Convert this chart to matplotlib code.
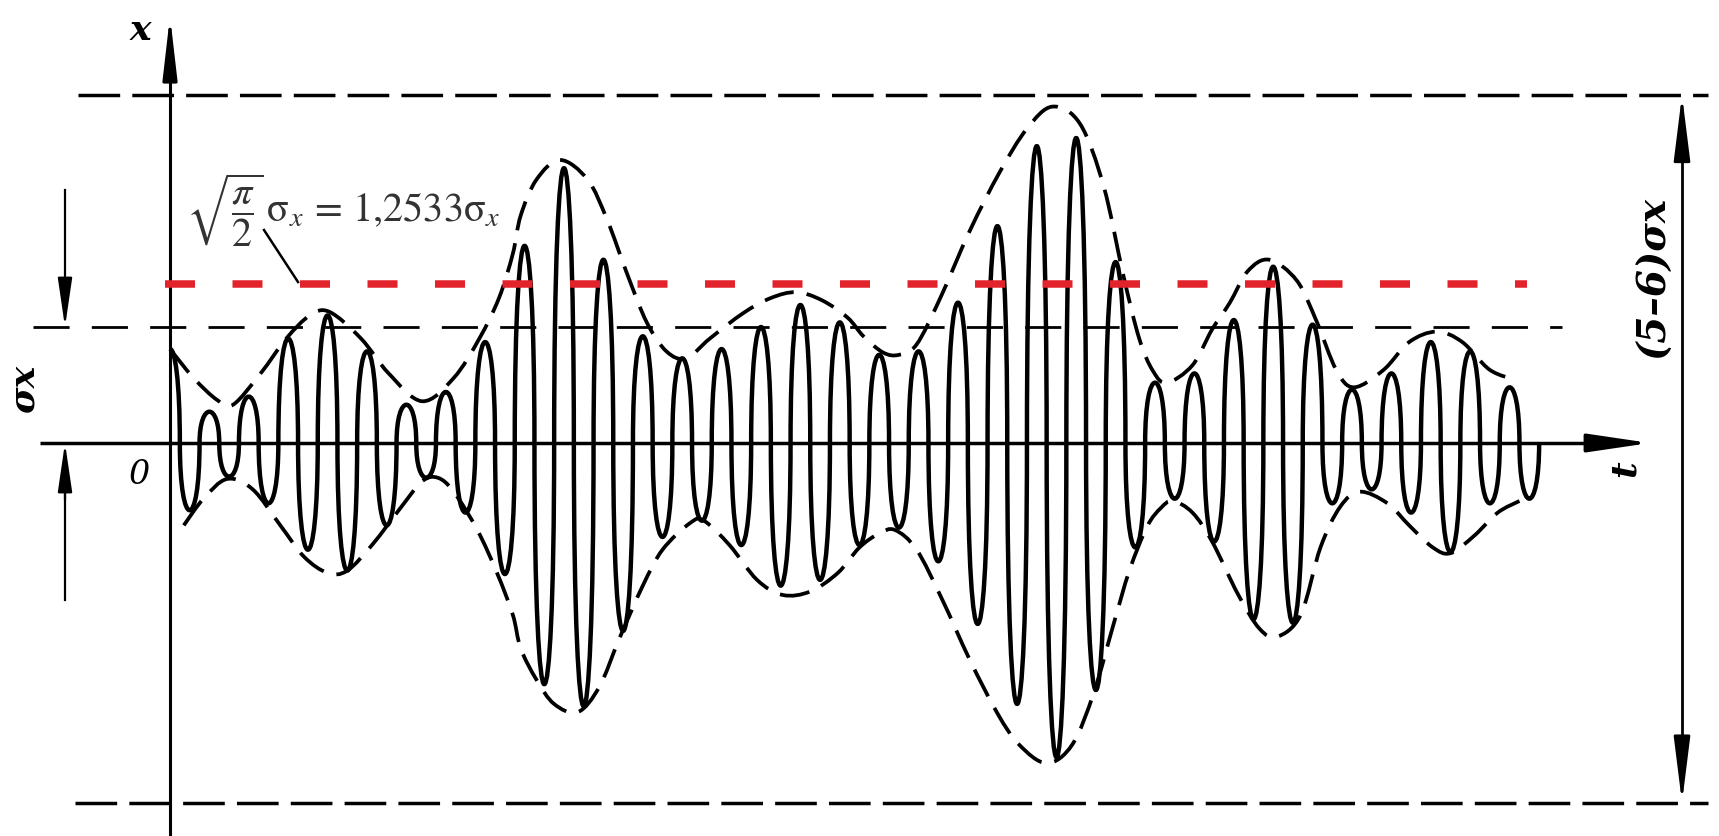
import numpy as np
import matplotlib
matplotlib.use("Agg")
import matplotlib.pyplot as plt
from matplotlib.path import Path
from matplotlib.patches import PathPatch

# peak value of every half-cycle of the carrier (in sigma units), half-cycle k is centred at t = k
peaks = [0.81, -0.58, 0.27, -0.29, 0.40, -0.52, 0.90, -0.92, 1.10, -1.10,
         0.79, -0.71, 0.33, -0.30, 0.44, -0.60, 0.87, -1.13, 1.70, -2.08,
         2.37, -2.27, 1.58, -1.62, 0.92, -0.81, 0.73, -0.67, 0.81, -0.88,
         1.00, -1.23, 1.19, -1.18, 1.04, -0.88, 0.76, -0.73, 0.79, -1.02,
         1.21, -1.56, 1.87, -2.25, 2.56, -2.71, 2.63, -2.13, 1.56, -0.90,
         0.52, -0.48, 0.60, -0.85, 1.06, -1.52, 1.52, -1.55, 1.02, -0.52,
         0.46, -0.40, 0.60, -0.60, 0.87, -0.94, 0.79, -0.52, 0.48, -0.48]

# envelope knots
upper_env_t = [0.0, 1.2, 2.4, 3.2, 4.6, 5.9, 7.1, 8.1, 9.7, 11.1, 12.8, 14.4, 15.7, 16.7,
               17.4, 17.8, 18.6, 19.8, 21.2, 22.2, 23.2, 24.2, 25.2, 26.2, 27.4, 29.1,
               30.5, 31.8, 33.1, 34.4, 35.2, 36.2, 37.0, 37.9, 39.1, 40.6, 42.1, 43.5,
               44.8, 46.2, 47.4, 48.4, 49.2, 49.9, 50.6, 51.9, 52.9, 53.8, 54.7, 55.8,
               57.2, 58.2, 59.2, 60.1, 61.6, 62.9, 64.3, 65.6, 67.0, 68.4]
upper_env_x = [0.81, 0.56, 0.37, 0.33, 0.60, 0.90, 1.10, 1.13, 0.90, 0.60, 0.36, 0.56, 0.90, 1.25,
               1.63, 1.96, 2.27, 2.44, 2.27, 1.92, 1.46, 1.04, 0.79, 0.73, 0.90, 1.12,
               1.25, 1.30, 1.23, 1.08, 0.92, 0.78, 0.76, 0.85, 1.25, 1.83, 2.33, 2.71,
               2.90, 2.75, 2.21, 1.44, 0.90, 0.62, 0.52, 0.67, 0.98, 1.21, 1.48, 1.58,
               1.40, 1.05, 0.63, 0.48, 0.63, 0.87, 0.96, 0.87, 0.63, 0.54]

lower_env_t = [0.7, 1.7, 2.9, 4.2, 5.6, 6.8, 8.0, 9.0, 10.3, 11.7, 12.8, 13.6, 14.4, 15.6,
               16.6, 17.4, 17.8, 18.6, 19.5, 20.7, 21.8, 22.8, 24.0, 25.0, 26.4, 27.1,
               28.4, 29.8, 31.1, 32.5, 33.9, 35.0, 36.0, 36.8, 37.9, 39.2, 40.6, 42.0,
               43.1, 44.5, 45.8, 46.9, 47.9, 48.7, 49.6, 50.3, 50.9, 51.9, 52.9, 54.2,
               55.3, 56.2, 57.4, 58.4, 59.4, 60.4, 61.8, 62.9, 64.1, 65.0, 66.2, 67.4, 68.5]
lower_env_x = [-0.71, -0.48, -0.31, -0.40, -0.71, -0.98, -1.12, -1.10, -0.87, -0.56, -0.33, -0.30, -0.42, -0.75,
               -1.12, -1.48, -1.77, -2.04, -2.25, -2.32, -2.10, -1.69, -1.23, -0.92, -0.69, -0.67,
               -0.88, -1.18, -1.31, -1.28, -1.12, -0.90, -0.78, -0.75, -0.92, -1.35, -1.87, -2.33,
               -2.60, -2.76, -2.60, -2.15, -1.56, -1.10, -0.72, -0.56, -0.50, -0.60, -0.85, -1.30,
               -1.60, -1.67, -1.48, -0.90, -0.55, -0.42, -0.52, -0.71, -0.90, -0.95, -0.80, -0.60, -0.50]

sigma_level = 1.0
mean_level = 1.37      # where the red line is drawn
band_hi = 3.0
band_lo = -3.1

# layout: pixels per unit
PX_T = 19.7
PX_S = 116.0
X0, Y0 = 170, 443
W, H = 1719, 836

plt.rcParams["mathtext.fontset"] = "stix"

fig = plt.figure(figsize=(W / 100, H / 100), dpi=100)
ax = fig.add_axes([0, 0, 1, 1])
ax.set_xlim(-X0 / PX_T, (W - X0) / PX_T)
ax.set_ylim((Y0 - H) / PX_S, Y0 / PX_S)
ax.axis("off")


def tx(px):
    return (px - X0) / PX_T


def ty(py):
    return (Y0 - py) / PX_S


def smooth_path(ts, xs):
    pts = np.column_stack([ts, xs]).astype(float)
    ext = np.vstack([pts[0], pts, pts[-1]])
    verts = [pts[0]]
    codes = [Path.MOVETO]
    for i in range(len(pts) - 1):
        p0, p1, p2, p3 = ext[i], ext[i + 1], ext[i + 2], ext[i + 3]
        verts += [p1 + (p2 - p0) / 6, p2 - (p3 - p1) / 6, p2]
        codes += [Path.CURVE4] * 3
    return Path(verts, codes)


def signal_path(vals):
    a0 = vals[0]
    verts = [(0, a0), (0.25, a0), (0.5, 2 * a0 / 3), (0.5, 0)]
    codes = [Path.MOVETO] + [Path.CURVE4] * 3
    for k in range(1, len(vals)):
        c = 4 * vals[k] / 3
        verts += [(k - 0.5, c), (k + 0.5, c), (k + 0.5, 0)]
        codes += [Path.CURVE4] * 3
    return Path(verts, codes)


def arrow(tip, tail, lw, hl, hw):
    ax.annotate("", xy=tip, xytext=tail,
                arrowprops=dict(arrowstyle="-|>,head_length=%g,head_width=%g" % (hl, hw),
                                mutation_scale=20, color="black", lw=lw,
                                shrinkA=0, shrinkB=0))


# axes with arrows
ax.plot([0, 0], [ty(H), ty(60)], color="black", lw=2.2, solid_capstyle="butt")
arrow((0, ty(16)), (0, ty(80)), 2.2, 1.9, 0.22)
ax.plot([tx(40), tx(1610)], [0, 0], color="black", lw=2.5, solid_capstyle="butt")
arrow((tx(1650), 0), (tx(1590), 0), 2.5, 1.9, 0.28)

# reference levels
ax.plot([tx(78), tx(1708)], [band_hi, band_hi], color="black", lw=2.5,
        dashes=(12, 3.5), dash_capstyle="butt")
ax.plot([tx(75), tx(1708)], [band_lo, band_lo], color="black", lw=2.5,
        dashes=(12, 3.5), dash_capstyle="butt")
ax.plot([tx(33), tx(1562)], [sigma_level, sigma_level], color="black", lw=2.0,
        dashes=(13, 8), dash_capstyle="butt")

# envelopes
for ts, xs in [(upper_env_t, upper_env_x), (lower_env_t, lower_env_x)]:
    ax.add_patch(PathPatch(smooth_path(ts, xs), fill=False, edgecolor="black",
                           lw=2.7, linestyle=(0, (8, 3.5)), capstyle="butt"))

# narrowband signal
ax.add_patch(PathPatch(signal_path(peaks), fill=False, edgecolor="black",
                       lw=3.2, joinstyle="round"))

# red mean-envelope line
ax.plot([tx(165), tx(1527)], [mean_level, mean_level], color="#e3232b", lw=5.4,
        dashes=(4, 5), dash_capstyle="butt", zorder=5)

# dimension arrows on the left (sigma_x)
ax.plot([tx(65), tx(65)], [ty(190), ty(300)], color="black", lw=1.6)
arrow((tx(65), sigma_level), (tx(65), ty(290)), 1.6, 1.5, 0.22)
ax.plot([tx(65), tx(65)], [ty(600), ty(490)], color="black", lw=1.6)
arrow((tx(65), 0), (tx(65), ty(500)), 1.6, 1.5, 0.22)

# dimension arrow on the right (5-6 sigma)
ax.plot([tx(1682), tx(1682)], [band_hi - 0.3, band_lo + 0.3], color="black", lw=2.0)
arrow((tx(1682), band_hi), (tx(1682), band_hi - 0.5), 2.0, 2.0, 0.25)
arrow((tx(1682), band_lo), (tx(1682), band_lo + 0.5), 2.0, 2.0, 0.25)

# labels
lab = dict(family="DejaVu Serif", style="italic", weight="bold", color="black")
ax.text(tx(140), ty(30), "x", fontsize=26, ha="center", va="center", **lab)
ax.text(tx(140), ty(475), "0", fontsize=24, ha="center", va="center",
        family="DejaVu Serif", style="italic", color="black")
ax.text(tx(1625), ty(469), "t", fontsize=26, ha="center", va="center", rotation=90, **lab)
ax.text(tx(24), ty(389), "σx", fontsize=26, ha="center", va="center", rotation=90, **lab)
ax.text(tx(1653), ty(277), "(5–6)σx", fontsize=28, ha="center", va="center",
        rotation=90, **lab)

ax.text(tx(186), ty(221), r"$\sqrt{\dfrac{\pi}{2}}\,\mathrm{\sigma}_x\,=\,1{,}2533\mathrm{\sigma}_x$",
        fontsize=29, color="#333333", ha="left", va="baseline")
ax.plot([tx(264), tx(298)], [ty(230), ty(282)], color="black", lw=1.8)

fig.savefig("out.png", dpi=100)
